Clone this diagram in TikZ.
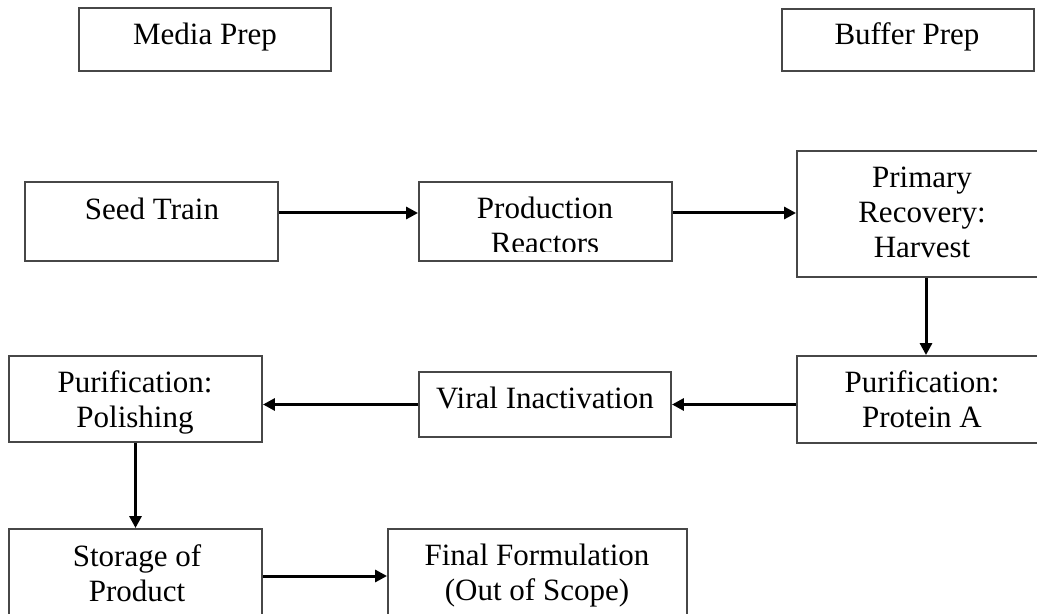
\documentclass[tikz,border=0pt]{standalone}
\usepackage{fontspec}
\setmainfont{Liberation Serif}
\usetikzlibrary{arrows.meta}
\begin{document}
\begin{tikzpicture}[x=0.5pt,y=-0.5pt,
  stepbox/.style={draw=black!72, line width=0.95pt, rectangle, inner sep=0pt},
  lbl/.style={font=\fontsize{15.5}{17.5}\selectfont, align=center, inner sep=0pt, anchor=base},
  arr/.style={line width=1.5pt, -{Triangle[length=6pt,width=6pt]}}]
\useasboundingbox (0,0) rectangle (1037,614);
\clip (0,0) rectangle (1037,614);
% boxes
\node[stepbox, minimum width=126pt, minimum height=31.5pt] (media) at (205,39.5) {};
\node[stepbox, minimum width=126pt, minimum height=31pt] (buffer) at (908,40) {};
\node[stepbox, minimum width=126.5pt, minimum height=39.5pt] (seed) at (151.5,221.5) {};
\node[stepbox, minimum width=126.5pt, minimum height=39.5pt] (prod) at (545.5,221.5) {};
\node[stepbox, minimum width=125pt, minimum height=63pt] (primary) at (922,214) {};
\node[stepbox, minimum width=125pt, minimum height=43.5pt] (protA) at (922,399.5) {};
\node[stepbox, minimum width=126pt, minimum height=32.5pt] (viral) at (545,404.5) {};
\node[stepbox, minimum width=126.5pt, minimum height=43pt] (polish) at (135.5,399) {};
\node[stepbox, minimum width=126.5pt, minimum height=47pt] (storage) at (135.5,576) {};
\node[stepbox, minimum width=149.5pt, minimum height=47pt] (final) at (537.5,576) {};
% texts (base anchor = baseline of the last line)
\node[lbl] (mediatxt) at (205,45) {Media Prep};
\node[lbl] (buffertxt) at (907,45) {Buffer Prep};
\node[lbl] (seedtxt) at (152,220) {Seed Train};
\begin{scope}
  \clip (419,182) rectangle (672,252);
  \node[lbl] (prodtxt) at (545,254) {Production\\Reactors};
\end{scope}
\node[lbl] (primarytxt) at (922,258) {Primary\\Recovery:\\Harvest};
\node[lbl] (protAtxt) at (922,427) {Purification:\\Protein A};
\node[lbl] (viraltxt) at (545,408) {Viral Inactivation};
\node[lbl] (polishtxt) at (135,427) {Purification:\\Polishing};
\node[lbl] (storagetxt) at (137,601) {Storage of\\Product};
\node[lbl] (finaltxt) at (537,600) {Final Formulation\\(Out of Scope)};
% connectors
\draw[arr] ([yshift=4.25pt]seed.east) -- ([yshift=4.25pt]prod.west);
\draw[arr] ([yshift=4.25pt]prod.east) -- ([yshift=4.25pt]prod.east -| primary.west);
\draw[arr] ([xshift=2pt]primary.south) -- ([xshift=2pt]protA.north);
\draw[arr] (protA.west |- viral.east) -- (viral.east);
\draw[arr] (viral.west) -- (viral.west -| polish.east);
\draw[arr] (polish.south) -- (storage.north);
\draw[arr] (storage.east) -- (final.west);
\end{tikzpicture}
\end{document}
